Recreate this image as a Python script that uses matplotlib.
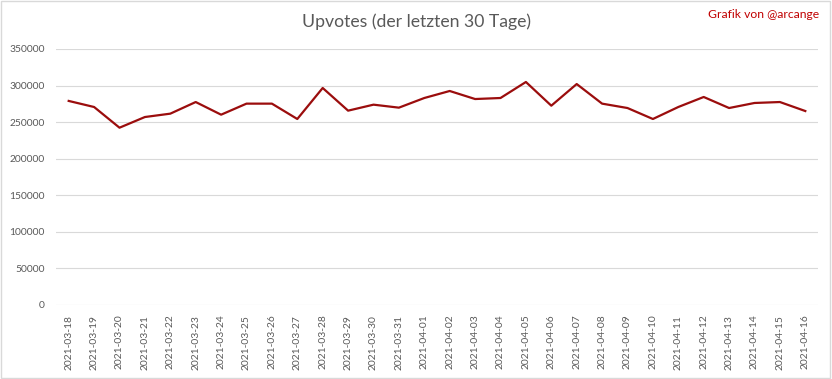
import matplotlib
matplotlib.use("Agg")
import matplotlib.pyplot as plt
from matplotlib.patches import Rectangle

# Daily upvotes, last 30 days
dates = ["2021-03-18", "2021-03-19", "2021-03-20", "2021-03-21", "2021-03-22",
         "2021-03-23", "2021-03-24", "2021-03-25", "2021-03-26", "2021-03-27",
         "2021-03-28", "2021-03-29", "2021-03-30", "2021-03-31", "2021-04-01",
         "2021-04-02", "2021-04-03", "2021-04-04", "2021-04-05", "2021-04-06",
         "2021-04-07", "2021-04-08", "2021-04-09", "2021-04-10", "2021-04-11",
         "2021-04-12", "2021-04-13", "2021-04-14", "2021-04-15", "2021-04-16"]
upvotes = [279000, 270700, 242400, 257000, 261600,
           277500, 260200, 275300, 275300, 254300,
           296700, 265700, 273900, 269800, 283000,
           292600, 281600, 283000, 304900, 272500,
           302100, 275300, 269300, 254300, 270700,
           284400, 269300, 276200, 277500, 265200]
yticks = [0, 50000, 100000, 150000, 200000, 250000, 300000, 350000]

plt.rcParams['font.family'] = ['Lato', 'DejaVu Sans']

fig = plt.figure(figsize=(8.32, 3.79), dpi=100)
ax = fig.add_axes([56/832, 1 - 305/379, 762/832, 256/379])

x = list(range(len(dates)))
ax.plot(x, upvotes, color='#9b0d0d', linewidth=1.6)

ax.set_xlim(-0.5, len(dates) - 0.5)
ax.set_ylim(0, 350000)
ax.set_yticks(yticks)
ax.set_yticklabels([str(v) for v in yticks])
ax.set_xticks(x)
ax.set_xticklabels(dates, rotation=90)
ax.tick_params(axis='both', length=0, labelsize=7.4, labelcolor='#595959')
ax.tick_params(axis='x', pad=7)
ax.tick_params(axis='y', pad=8)
ax.grid(axis='y', color='#d9d9d9', linewidth=0.8)
ax.set_axisbelow(True)
for s in ax.spines.values():
    s.set_visible(False)

fig.text(0.5, 1 - 22/379, "Upvotes (der letzten 30 Tage)", ha='center', va='center',
         fontsize=12.7, color='#595959')
fig.text(819/832, 1 - 14/379, "Grafik von @arcange", ha='right', va='center',
         fontsize=8.7, color='#c00000')

# chart border
fig.patches.append(Rectangle((0.001, 0.002), 0.997, 0.995, transform=fig.transFigure,
                             fill=False, edgecolor='#d9d9d9', linewidth=1))

fig.savefig("out.png", dpi=100)
